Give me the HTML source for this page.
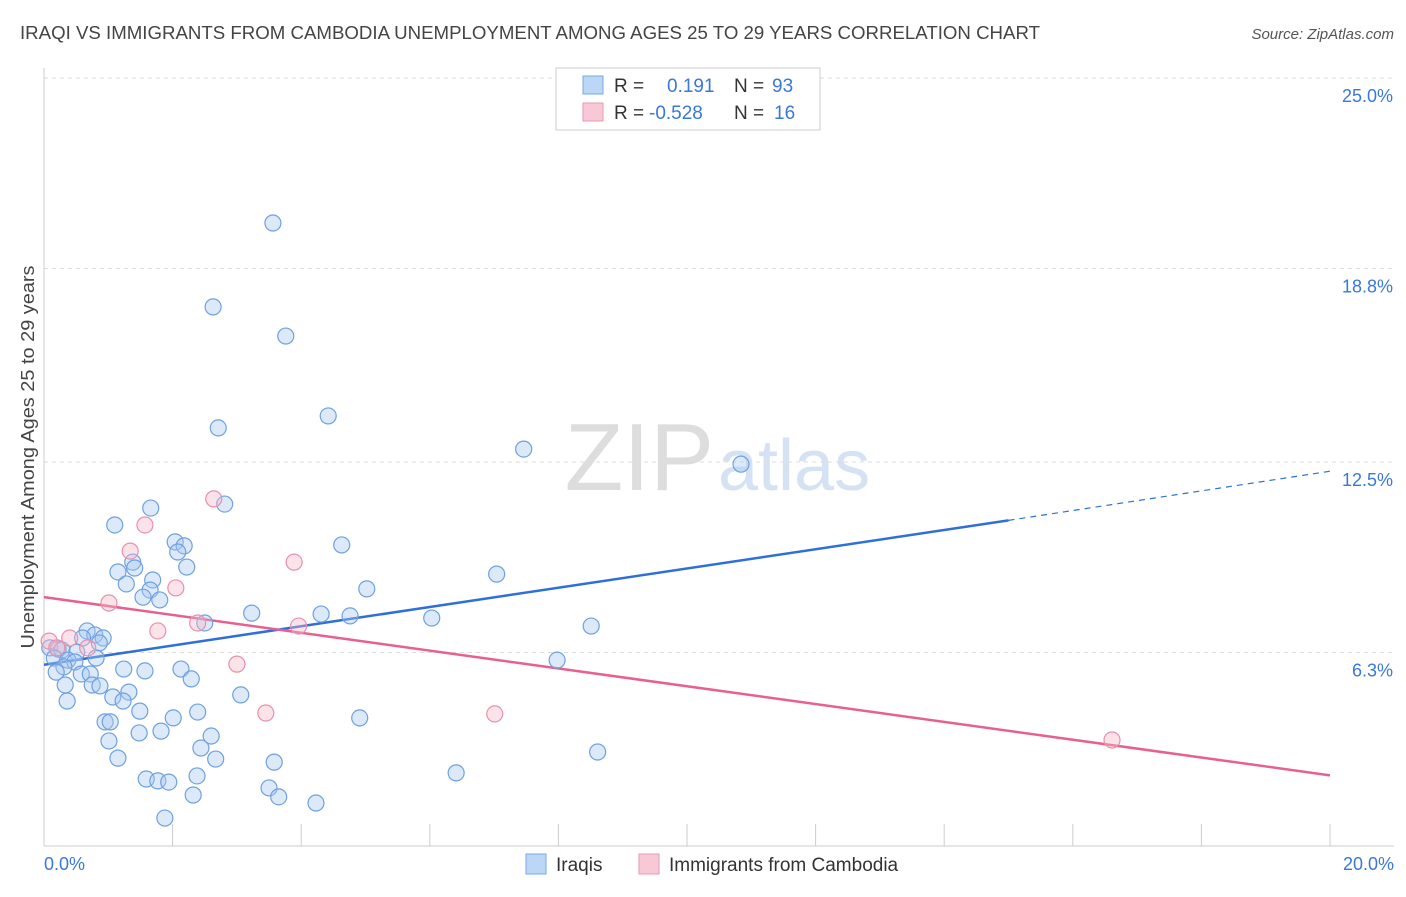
<!DOCTYPE html>
<html><head><meta charset="utf-8"><style>
body{margin:0;background:#fff;font-family:"Liberation Sans",sans-serif}
svg text{font-family:"Liberation Sans",sans-serif}
</style></head><body>
<svg id="chart" width="1406" height="892">
<text x="20" y="39" font-size="18" fill="#444" textLength="1020" lengthAdjust="spacingAndGlyphs">IRAQI VS IMMIGRANTS FROM CAMBODIA UNEMPLOYMENT AMONG AGES 25 TO 29 YEARS CORRELATION CHART</text>
<text x="1394" y="39" font-size="15" fill="#555" font-style="italic" text-anchor="end">Source: ZipAtlas.com</text>
<text x="714" y="490" font-size="96" fill="#ddd" text-anchor="end" font-family="Liberation Serif">ZIP</text>
<text x="718" y="490" font-size="72" fill="#d4e2f4">atlas</text>
<g id="grid"></g><g id="axes"></g><g id="lines"></g><g id="pts"></g>
<text transform="translate(34,457) rotate(-90)" font-size="18" fill="#444" text-anchor="middle" textLength="383" lengthAdjust="spacingAndGlyphs">Unemployment Among Ages 25 to 29 years</text>
<g>
<rect x="556" y="68" width="264" height="62" fill="#fff" stroke="#ccc"/>
<rect x="583" y="76" width="20" height="18" fill="#bcd6f5" stroke="#7aa8e0"/>
<rect x="583" y="103" width="20" height="18" fill="#f9c8d6" stroke="#e89ab3"/>
<text x="614" y="92" font-size="19" fill="#333">R = </text><text x="667" y="92" font-size="19" fill="#3a78d8">0.191</text>
<text x="734" y="92" font-size="19" fill="#333">N = </text><text x="772" y="92" font-size="19" fill="#3a78d8">93</text>
<text x="614" y="119" font-size="19" fill="#333">R = </text><text x="649" y="119" font-size="19" fill="#3a78d8">-0.528</text>
<text x="734" y="119" font-size="19" fill="#333">N = </text><text x="774" y="119" font-size="19" fill="#3a78d8">16</text>
</g>
<g>
<rect x="526" y="854" width="20" height="20" fill="#bcd6f5" stroke="#7aa8e0"/>
<text x="556" y="871" font-size="19" fill="#333">Iraqis</text>
<rect x="639" y="854" width="20" height="20" fill="#f9c8d6" stroke="#e89ab3"/>
<text x="669" y="871" font-size="19" fill="#333">Immigrants from Cambodia</text>
</g>
</svg>
<script>
const yTicks=[6.3,12.5,18.8,25.0];
const xTicks=[0,2,4,6,8,10,12,14,16,18,20];
const xLabels=["0.0%","20.0%"];
const iraqX=[3.56,2.63,3.76,4.42,2.71,7.46,10.84,2.81,1.66,1.10,2.04,2.18,4.63,2.08,1.38,1.15,2.22,1.41,7.04,1.28,1.69,1.65,5.02,1.54,1.80,3.23,4.31,4.76,6.03,2.50,8.51,0.67,0.79,0.60,0.92,0.86,0.09,0.22,0.28,0.51,0.16,0.37,0.48,0.81,7.98,0.31,0.19,1.24,1.57,2.13,0.58,0.72,2.29,0.33,0.75,0.87,1.32,3.06,1.07,1.23,0.36,1.49,2.39,2.01,4.91,0.95,1.03,1.82,2.60,1.48,1.01,2.44,8.61,1.15,2.67,3.58,6.41,2.38,1.59,1.77,1.94,3.50,2.32,3.65,4.23,1.88];
const iraqY=[20.28,17.55,16.60,14.00,13.61,12.92,12.43,11.13,11.00,10.45,9.90,9.77,9.80,9.57,9.24,8.92,9.08,9.05,8.85,8.53,8.66,8.33,8.37,8.10,8.01,7.58,7.55,7.49,7.42,7.26,7.16,7.00,6.87,6.77,6.77,6.61,6.45,6.41,6.38,6.31,6.12,6.05,5.99,6.12,6.05,5.83,5.66,5.76,5.70,5.76,5.60,5.60,5.44,5.24,5.24,5.21,5.01,4.92,4.85,4.72,4.72,4.39,4.36,4.17,4.17,4.04,4.04,3.74,3.58,3.68,3.42,3.19,3.06,2.86,2.83,2.73,2.38,2.28,2.18,2.12,2.08,1.89,1.66,1.60,1.40,0.91];
const cambX=[0.08,0.20,0.40,0.68,1.01,1.34,1.57,1.77,2.05,2.39,2.64,3.00,3.45,3.89,3.96,7.01,16.61];
const cambY=[6.67,6.45,6.77,6.45,7.91,9.60,10.45,7.00,8.40,7.26,11.30,5.92,4.33,9.24,7.16,4.30,3.45];
const iraqFit=[5.9,10.6,12.2]; // at x=0, 15, 20
const cambFit=[8.1,2.3]; // at x=0, 20
const X=v=>44+v/20*1286, Y=v=>846-v*30.72;
const NS="http://www.w3.org/2000/svg";
function mk(p,t,a){const e=document.createElementNS(NS,t);for(const k in a)e.setAttribute(k,a[k]);document.getElementById(p).appendChild(e);return e;}
yTicks.forEach(t=>{
 const l=mk('grid','line',{x1:44,x2:1394,y1:Y(t),y2:Y(t),stroke:'#ddd','stroke-dasharray':'4,4'});
 
 
 const tx=mk('grid','text',{x:1393,y:Y(t)+24,'font-size':18,fill:'#3a78d8','text-anchor':'end'});
 tx.textContent=t.toFixed(1)+'%';
 
 
});
const tg=mk('grid','line',{x1:44,x2:1394,y1:78,y2:78,stroke:'#ddd','stroke-dasharray':'4,4'});


const ya=mk('axes','line',{x1:44,x2:44,y1:68,y2:846,stroke:'#ccc'});


const xa=mk('axes','line',{x1:44,x2:1394,y1:846,y2:846,stroke:'#ccc'});


xTicks.forEach(t=>{
 const l=mk('axes','line',{x1:X(t),x2:X(t),y1:824,y2:846,stroke:'#ccc'});
 
 
});
[[0,'start',44],[20,'end',1394]].forEach((d,i)=>{
 const tx=mk('axes','text',{x:d[2],y:870,'font-size':18,fill:'#3a78d8','text-anchor':d[1]});
 tx.textContent=xLabels[i];
 
 
});
function dot(x,y,f,s,n){const c=mk('pts','circle',{cx:X(x),cy:Y(y),r:8,fill:f,'fill-opacity':0.4,stroke:s,'stroke-width':1.2});
 
 }
iraqX.forEach((x,i)=>dot(x,iraqY[i],'#a8c8f0','#6fa0e0','iraqi-point'));
cambX.forEach((x,i)=>dot(x,cambY[i],'#f7b8cb','#e890ac','cambodia-point'));
const b1=mk('lines','line',{x1:X(0),y1:Y(iraqFit[0]),x2:X(15),y2:Y(iraqFit[1]),stroke:'#2f6fd8','stroke-width':2.5});


const b2=mk('lines','line',{x1:X(15),y1:Y(iraqFit[1]),x2:X(20),y2:Y(iraqFit[2]),stroke:'#2f6fd8','stroke-width':1.2,'stroke-dasharray':'6,5'});


const p1=mk('lines','line',{x1:X(0),y1:Y(cambFit[0]),x2:X(20),y2:Y(cambFit[1]),stroke:'#e8608e','stroke-width':2.5});


</script>
</body></html>
